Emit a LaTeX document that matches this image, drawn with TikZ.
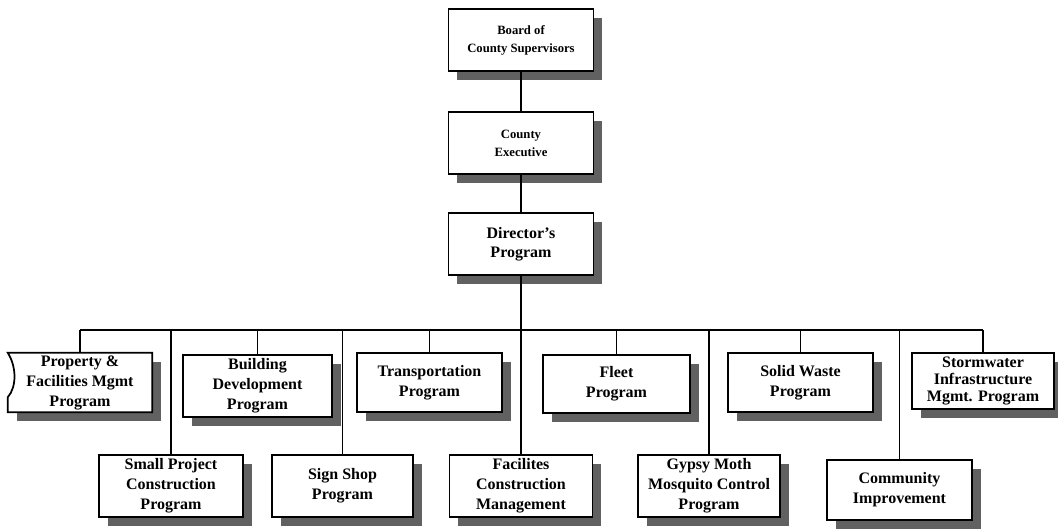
\documentclass[tikz,border=0pt]{standalone}
\usepackage{fontspec}
\setmainfont{Liberation Serif}
\usetikzlibrary{shadows}

\tikzset{
  shadowfill/.style={fill=black!62},
  orgbox/.style 2 args={draw=black, line width=1.3pt, fill=white, inner sep=0pt,
    minimum width=#1*0.75pt, minimum height=#2*0.75pt, align=center,
    font=\bfseries\fontsize{12}{15}\selectfont,
    drop shadow={shadow xshift=6.6pt, shadow yshift=-6.6pt, shadowfill, opacity=1}},
  topbox/.style={orgbox={145}{62}, font=\bfseries\fontsize{9.5}{13.5}\selectfont},
  link/.style={draw=black, line width=1.4pt},
}

\begin{document}
\begin{tikzpicture}[x=0.75pt, y=-0.75pt]
\useasboundingbox (0,0) rectangle (1058,529);

% upper chain of command
\node[topbox] (board) at (521,40) {Board of\\County Supervisors};
\node[topbox] (exec) at (521,143) {County\\Executive};
\node[orgbox={145}{62}, font=\bfseries\fontsize{12}{14}\selectfont] (dir) at (521,244) {Director's\\Program};

% first row of programs
% Property box: its torn left edge is drawn by hand, so the node itself is invisible
\node[minimum width=144*0.75pt, minimum height=59*0.75pt, inner sep=0pt] (prop) at (80,382.5) {};
\fill[shadowfill] ([shift={(9,9)}]prop.north west) rectangle ([shift={(9,9)}]prop.south east);
\filldraw[fill=white, draw=black, line width=1.3pt, line join=miter]
  (prop.north west) -- (prop.north east) -- (prop.south east) -- (prop.south west)
  -- ([shift={(0,-15)}]prop.south west)
  .. controls ([shift={(9,-25)}]prop.south west) and ([shift={(9,14)}]prop.north west)
  .. (prop.north west) -- cycle;
\node[align=center, font=\bfseries\fontsize{12}{15}\selectfont] at (prop.center) {Property \&\\Facilities Mgmt\\Program};

\node[orgbox={149}{62}] (build) at (257.5,386) {Building\\Development\\Program};
\node[orgbox={145}{59}] (trans) at (429.5,382.5) {Transportation\\Program};
\node[orgbox={147}{58}] (fleet) at (616.5,384) {Fleet\\Program};
\node[orgbox={145}{59}] (solid) at (800.5,382.5) {Solid Waste\\Program};
\node[orgbox={142}{56}, font=\bfseries\fontsize{12}{13}\selectfont] (storm) at (983,381) {Stormwater\\Infrastructure\\Mgmt. Program};

% second row of programs
\node[orgbox={144}{62}] (small) at (171,486) {Small Project\\Construction\\Program};
\node[orgbox={141}{62}] (sign) at (342.5,486) {Sign Shop\\Program};
\node[orgbox={143}{62}] (fac) at (521,486) {Facilites\\Construction\\Management};
\node[orgbox={142}{62}] (gypsy) at (709,486) {Gypsy Moth\\Mosquito Control\\Program};
\node[orgbox={145}{60}] (comm) at (899.5,490) {Community\\Improvement};

% connectors
\coordinate (bus) at (0,330);
\draw[link] (board.south) -- (exec.north);
\draw[link] (exec.south) -- (dir.north);
\draw[link] (dir.south) -- (fac.north);
\draw[link, line width=1.6pt] (prop.north |- bus) -- (storm.north |- bus);
\foreach \n in {prop, build, trans, fleet, solid, storm, small, sign, gypsy, comm}
  \draw[link] (\n.north |- bus) -- (\n.north);
\end{tikzpicture}
\end{document}
